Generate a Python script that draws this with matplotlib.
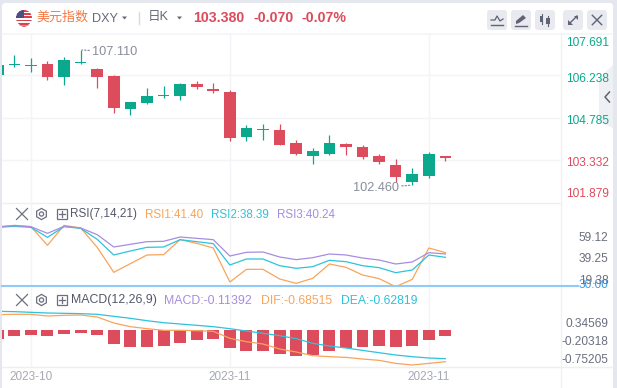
import matplotlib
matplotlib.use('Agg')
import matplotlib.pyplot as plt
from matplotlib.patches import Circle, FancyBboxPatch, Polygon, Rectangle, RegularPolygon

plt.rcParams['font.family'] = ['Liberation Sans', 'Noto Sans CJK SC', 'DejaVu Sans']

W, H = 617, 388

# daily candles, first one is cut by the left edge
opens = [106.249, 106.595, 106.572, 106.630, 106.180, 106.676, 106.457, 106.215, 105.073, 105.281, 105.523, 105.523,
         105.938, 105.765, 105.661, 104.105, 104.347, 104.347, 103.897, 103.447, 103.516, 103.862, 103.759, 103.447,
         103.136, 102.583, 102.790, 103.447]
closes = [106.595, 106.618, 106.607, 106.180, 106.768, 106.710, 106.180, 105.108, 105.315, 105.523, 105.557,
          105.938, 105.834, 105.696, 104.070, 104.416, 104.381, 103.828, 103.516, 103.620, 103.897, 103.759, 103.413,
          103.240, 102.755, 102.859, 103.516, 103.380]
highs = [106.7, 106.918, 106.837, 106.733, 106.872, 107.110, 106.491, 106.249, 105.315, 105.799, 105.869, 105.972,
         106.042, 105.972, 105.730, 104.520, 104.554, 104.554, 104.000, 103.724, 104.197, 103.897, 103.828, 103.516,
         103.344, 103.032, 103.586, 103.447]
lows = [106.2, 106.537, 106.364, 106.076, 105.903, 106.630, 105.799, 104.935, 104.865, 105.246, 105.454, 105.384,
        105.765, 105.626, 103.966, 103.966, 104.001, 103.828, 103.482, 103.171, 103.482, 103.482, 103.344, 103.171,
        102.583, 102.460, 102.721, 103.274]

rsi1 = [67.78, 69.64, 68.40, 51.03, 69.64, 67.16, 49.17, 25.92, 33.98, 42.04, 42.35, 56.30, 52.89, 48.55, 16.92,
        28.71, 28.71, 19.72, 15.68, 20.34, 33.67, 30.57, 23.44, 20.03, 12.58, 19.41, 48.55, 44.21]
rsi2 = [67.78, 68.71, 67.78, 58.47, 68.40, 66.85, 56.61, 42.04, 45.76, 49.17, 49.48, 56.30, 54.44, 52.58, 32.74,
        38.32, 38.32, 32.12, 29.64, 31.19, 37.08, 35.84, 32.12, 30.26, 25.61, 28.09, 42.04, 39.87]
rsi3 = [68.40, 69.33, 68.40, 62.20, 68.71, 67.16, 60.96, 49.48, 51.96, 54.44, 54.75, 58.78, 57.54, 56.30, 41.11,
        44.52, 44.83, 40.18, 37.70, 39.56, 42.97, 42.04, 39.25, 37.39, 33.67, 35.53, 44.21, 42.97]
rsi_level = 13.2

macd_hist = [-0.171, -0.114, -0.095, -0.114, -0.076, -0.057, -0.095, -0.266, -0.323, -0.323, -0.304, -0.247, -0.190,
             -0.171, -0.342, -0.399, -0.399, -0.456, -0.494, -0.475, -0.399, -0.342, -0.323, -0.304, -0.323, -0.304,
             -0.190, -0.114]
dif = [0.292, 0.298, 0.298, 0.266, 0.279, 0.285, 0.247, 0.133, 0.063, 0.025, -0.006, -0.006, -0.013, -0.025, -0.158,
       -0.222, -0.266, -0.361, -0.418, -0.488, -0.507, -0.520, -0.551, -0.577, -0.634, -0.665, -0.634, -0.602]
dea = [0.355, 0.349, 0.336, 0.323, 0.317, 0.311, 0.298, 0.260, 0.222, 0.177, 0.139, 0.114, 0.089, 0.063, 0.025,
       -0.019, -0.063, -0.108, -0.165, -0.253, -0.304, -0.342, -0.387, -0.431, -0.475, -0.507, -0.532, -0.545]

price_ticks = [107.398, 106.17, 104.715, 103.262, 102.19]
price_labels = ['107.691', '106.238', '104.785', '103.332', '101.879']
price_grid = [106.238, 104.785, 103.332]
rsi_ticks = [59.12, 39.25, 19.38]
rsi_labels = ['59.12', '39.25', '19.38']
macd_ticks = [0.139, -0.203, -0.545]
macd_labels = ['0.34569', '-0.20318', '-0.75205']
time_ticks = [2, 14, 26]
time_labels = ['2023-10', '2023-11', '2023-11']

UP = '#0aa88c'
DOWN = '#dc4c5c'
ORANGE = '#f9a45a'
CYAN = '#2cc3dc'
PURPLE = '#a68de0'
GRID = '#f3f4f7'
ICON = '#5f6475'


def make_axes(fig, top, bottom, ylim):
    ax = fig.add_axes([2 / W, 1 - bottom / H, 559 / W, (bottom - top) / H], facecolor='none')
    ax.set_xlim(0.258, 33.97)
    ax.set_ylim(*ylim)
    ax.set_xticks([])
    for side in ax.spines:
        ax.spines[side].set_visible(False)
    ax.yaxis.tick_right()
    for x in time_ticks:
        ax.axvline(x, color=GRID, lw=1.0, zorder=0)
    return ax


def cross(bg, x, y, r, color=ICON, lw=1.0):
    bg.plot([x - r, x + r], [y - r, y + r], color=color, lw=lw)
    bg.plot([x - r, x + r], [y + r, y - r], color=color, lw=lw)


def panel_icons(bg, y):
    cross(bg, 22, y, 5.5, '#6b6f7e', 0.9)
    bg.add_patch(RegularPolygon((41.5, y), 6, radius=5.6, fill=False, ec='#6b6f7e', lw=0.9))
    bg.add_patch(Circle((41.5, y), 2.1, fill=False, ec='#6b6f7e', lw=0.9))
    bg.add_patch(Rectangle((56.5, y - 5), 10, 10, fill=False, ec='#6b6f7e', lw=0.9))
    bg.plot([58.5, 64.5], [y, y], color='#6b6f7e', lw=0.9)
    bg.plot([61.5, 61.5], [y - 3, y + 3], color='#6b6f7e', lw=0.9)


fig = plt.figure(figsize=(W / 100, H / 100), dpi=100, facecolor='#e4e7ee')

# page furniture in pixel coordinates
bg = fig.add_axes([0, 0, 1, 1], zorder=0)
bg.set_xlim(0, W)
bg.set_ylim(H, 0)
bg.axis('off')
bg.add_patch(FancyBboxPatch((4, 5), 607, 400, boxstyle='round,pad=2,rounding_size=3', fc='white', ec='none'))
bg.plot([2, 613], [34, 34], color='#f4f5f8', lw=1.2)
bg.plot([2, 561], [203, 203], color='#eeeff2', lw=1.0)
bg.plot([2, 613], [367, 367], color='#eeeff2', lw=1.0)
bg.plot([561, 561], [34, 388], color='#f0f1f4', lw=1.0)

# flag
flag = Circle((24, 18), 8, fc='white', ec='none')
bg.add_patch(flag)
for y in [10, 13.2, 16.4, 19.6, 22.8]:
    s = bg.add_patch(Rectangle((15, y), 18, 1.7, fc='#d8404c', ec='none'))
    s.set_clip_path(flag)
c = bg.add_patch(Rectangle((15, 9), 9, 8.5, fc='#4a4f86', ec='none'))
c.set_clip_path(flag)
bg.add_patch(Polygon([[19, 25.4], [29, 25.4], [24, 27]], fc='#d8404c', ec='none'))

# header
bg.text(36, 17.5, '美元指数', color='#f47a45', fontsize=9.4, va='center', ha='left')
bg.text(92, 18.5, 'DXY', color='#666a78', fontsize=9.1, va='center', ha='left')
bg.add_patch(Polygon([[122, 16.5], [127, 16.5], [124.5, 19.5]], fc='#666a78', ec='none'))
bg.plot([138.5, 138.5], [12, 24], color='#d8dae2', lw=1.0)
bg.text(148, 17, '日K', color='#666a78', fontsize=9.1, va='center', ha='left')
bg.add_patch(Polygon([[177, 16.5], [182, 16.5], [179.5, 19.5]], fc='#666a78', ec='none'))
bg.text(193, 17.5, '103.380', color=DOWN, fontsize=10.2, fontweight='bold', va='center', ha='left')
bg.text(253, 17.5, '-0.070', color=DOWN, fontsize=10.2, fontweight='bold', va='center', ha='left')
bg.text(302, 17.5, '-0.07%', color=DOWN, fontsize=10.2, fontweight='bold', va='center', ha='left')

# toolbar buttons
for x in [487, 511, 535, 563, 587]:
    bg.add_patch(FancyBboxPatch((x + 2, 12), 16, 16, boxstyle='round,pad=2,rounding_size=3', fc='#e8eaf0', ec='none'))
bg.plot([491, 495, 497, 500, 503], [20, 20, 16, 21, 19], color=ICON, lw=0.9)
bg.plot([491, 503], [25, 25], color=ICON, lw=1.0)
bg.add_patch(Polygon([[516, 21], [523, 15], [526, 18], [519, 23], [516, 24]], fc=ICON, ec='none'))
bg.plot([515, 527], [25.5, 25.5], color=ICON, lw=1.0)
bg.plot([541.5, 541.5], [14, 24], color=ICON, lw=0.8)
bg.add_patch(Rectangle((540, 16), 3.2, 6, fc=ICON, ec='none'))
bg.plot([548, 548], [16, 26], color=ICON, lw=0.8)
bg.add_patch(Rectangle((546.3, 18), 3.4, 6, fc=ICON, ec='none'))
bg.plot([569, 577], [24, 16], color=ICON, lw=1.0)
bg.add_patch(Polygon([[573.5, 15.5], [578, 15.5], [578, 20]], fc=ICON, ec='none'))
bg.add_patch(Polygon([[568, 20], [568, 24.5], [572.5, 24.5]], fc=ICON, ec='none'))
cross(bg, 597, 20, 4.7, ICON, 1.0)

# collapse tab on the right
bg.add_patch(Polygon([[613, 65], [599, 78], [599, 122], [613, 128]], fc='#eff0f4', ec='none'))
bg.plot([609.5, 605, 609.5], [92, 97, 102], color=ICON, lw=1.1)

panel_icons(bg, 214)
panel_icons(bg, 300)

# legends
bg.text(70, 214.5, 'RSI(7,14,21)', color='#55586a', fontsize=8.5, va='center')
bg.text(145, 214.5, 'RSI1:41.40', color=ORANGE, fontsize=8.4, va='center')
bg.text(211, 214.5, 'RSI2:38.39', color=CYAN, fontsize=8.4, va='center')
bg.text(277, 214.5, 'RSI3:40.24', color=PURPLE, fontsize=8.4, va='center')
bg.text(71, 300.5, 'MACD(12,26,9)', color='#55586a', fontsize=8.9, va='center')
bg.text(164, 300.5, 'MACD:-0.11392', color=PURPLE, fontsize=8.9, va='center')
bg.text(261, 300.5, 'DIF:-0.68515', color=ORANGE, fontsize=8.8, va='center')
bg.text(341, 300.5, 'DEA:-0.62819', color=CYAN, fontsize=8.7, va='center')

# oversold level label, cut off by the MACD panel
lvl = bg.text(608.7, 285.5, '30.00', color='#3f9bea', fontsize=8.6, va='center', ha='right')
lvl.set_clip_path(Rectangle((570, 270), 45, 18, transform=bg.transData))

x_idx = list(range(len(opens)))

# candles
ax = make_axes(fig, 34, 203, (101.845, 107.657))
for y in price_grid:
    ax.axhline(y, color=GRID, lw=1.0, zorder=0)
colors = [UP if c >= o else DOWN for o, c in zip(opens, closes)]
ax.vlines(x_idx, lows, highs, colors=colors, lw=0.9, zorder=2)
ax.bar(x_idx, [abs(c - o) for o, c in zip(opens, closes)], bottom=[min(o, c) for o, c in zip(opens, closes)],
       width=0.7, color=colors, zorder=3)
ax.set_yticks(price_ticks, price_labels)
ax.tick_params(axis='y', length=0, pad=3.4, labelsize=8.6)
for label, col in zip(ax.get_yticklabels(), [UP, UP, UP, DOWN, DOWN]):
    label.set_color(col)
ax.annotate('107.110', xy=(5, 107.11), xytext=(8.2, -1.5), textcoords='offset points', color='#8a8d9b', fontsize=9.2,
            va='center', ha='left',
            arrowprops=dict(arrowstyle='-', linestyle=':', color='#8a8d9b', lw=0.9, shrinkA=0, shrinkB=1))
ax.annotate('102.460', xy=(25, 102.46), xytext=(-9.5, -2), textcoords='offset points', color='#8a8d9b', fontsize=9.2,
            va='center', ha='right',
            arrowprops=dict(arrowstyle='-', linestyle=':', color='#8a8d9b', lw=0.9, shrinkA=0, shrinkB=1))

# RSI
ax_rsi = make_axes(fig, 203, 287, (12.27, 90.4))
ax_rsi.plot(x_idx, rsi1, color=ORANGE, lw=0.9, zorder=3)
ax_rsi.plot(x_idx, rsi2, color=CYAN, lw=0.9, zorder=3)
ax_rsi.plot(x_idx, rsi3, color=PURPLE, lw=0.9, zorder=3)
ax_rsi.axhline(rsi_level, xmax=576 / 559, color='#90caf9', lw=1.5, clip_on=False, zorder=4)
ax_rsi.set_yticks(rsi_ticks, rsi_labels)

# MACD
ax_macd = make_axes(fig, 288, 367, (-0.703, 0.798))
ax_macd.bar(x_idx, macd_hist, width=0.72, color=DOWN, zorder=2)
ax_macd.plot(x_idx, dif, color=ORANGE, lw=0.9, zorder=3)
ax_macd.plot(x_idx, dea, color=CYAN, lw=0.9, zorder=3)
ax_macd.set_yticks(macd_ticks, macd_labels)
ax_macd.set_xticks(time_ticks, time_labels)
ax_macd.tick_params(axis='x', length=0, pad=2.8, labelsize=8.5, labelcolor='#a6a9b5')

for a in [ax_rsi, ax_macd]:
    a.tick_params(axis='y', length=0, pad=34.3, labelsize=8.6, labelcolor='#6b6f7e')
    for label in a.get_yticklabels():
        label.set_ha('right')

fig.savefig('out.png', dpi=100, facecolor=fig.get_facecolor())
